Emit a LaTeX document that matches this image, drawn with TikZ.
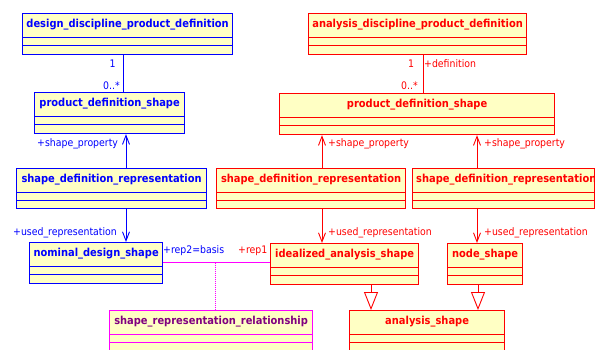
\documentclass[tikz,border=0pt]{standalone}
\usepackage{fontspec}
\setmainfont{DejaVu Sans Condensed}
\usetikzlibrary{arrows.meta,calc}
\definecolor{boxfill}{RGB}{255,255,196}
\definecolor{ublue}{RGB}{0,0,255}
\definecolor{ured}{RGB}{255,0,0}
\definecolor{umag}{RGB}{255,0,255}
\definecolor{upurple}{RGB}{128,0,128}
\tikzset{
  classbox/.style={rectangle, fill=boxfill, line width=1.2pt, inner sep=0pt, anchor=north west},
  titletext/.style={font=\bfseries\fontsize{11}{13}\selectfont, inner sep=0pt},
  lbl/.style={font=\fontsize{10.4}{12}\selectfont, inner sep=0pt},
  conn/.style={line width=0.9pt},
  barb/.style={-{Straight Barb[length=9pt,width=7pt]}},
  gen/.style={-{Triangle[open,length=18pt,width=14pt]}},
  finedots/.style={line width=0.7pt, dash pattern=on 0.8pt off 1.2pt},
}
\newcommand{\umlclass}[8]{%
  \node[classbox, draw=#2, minimum width=#6pt, minimum height=#7pt] (#1) at (#4,#5) {};
  \draw[#2, line width=0.9pt] ($(#1.north west)+(0,24)$) -- ($(#1.north east)+(0,24)$);
  \draw[#2, line width=0.9pt] ($(#1.north west)+(0,32)$) -- ($(#1.north east)+(0,32)$);
  \node[titletext, text=#3] (#1-title) at ($(#1.north)+(0,12)$) {#8};
}
\begin{document}
\begin{tikzpicture}[x=1pt,y=-1pt]
\useasboundingbox (0,0) rectangle (595,349);
\clip (0,0) rectangle (595,349);
% blue classes
\umlclass{b1}{ublue}{ublue}{22}{13}{210}{41}{design\_discipline\_product\_definition}
\umlclass{b2}{ublue}{ublue}{34}{92}{150}{41}{product\_definition\_shape}
\umlclass{b3}{ublue}{ublue}{16}{168}{190}{40}{shape\_definition\_representation}
\umlclass{b4}{ublue}{ublue}{29}{242}{133}{41}{nominal\_design\_shape}
% magenta class
\umlclass{srr}{umag}{upurple}{109}{310}{203}{60}{shape\_representation\_relationship}
% red classes
\umlclass{r1}{ured}{ured}{308}{13}{218}{41}{analysis\_discipline\_product\_definition}
\umlclass{r2}{ured}{ured}{279}{93}{275}{41}{product\_definition\_shape}
\umlclass{r3}{ured}{ured}{216}{168}{189}{40}{shape\_definition\_representation}
\umlclass{r4}{ured}{ured}{412}{168}{182}{40}{}
\node[titletext, text=ured, anchor=west] (r4-t) at ($(r4.north west)+(4,12)$) {shape\_definition\_representation};
\umlclass{r5}{ured}{ured}{270}{243}{148}{41}{idealized\_analysis\_shape}
\umlclass{r6}{ured}{ured}{447}{243}{75}{41}{node\_shape}
\umlclass{r7}{ured}{ured}{349}{310}{155}{60}{analysis\_shape}
% coordinates for connector x positions
\coordinate (xb1) at (123,0);
\coordinate (xb2) at (126,0);
\coordinate (xr1) at (423,0);
\coordinate (xr2) at (322,0);
\coordinate (xr3) at (477,0);
\coordinate (xg1) at (371,0);
\coordinate (xg2) at (478,0);
\coordinate (ym) at (0,262.5);
\coordinate (xd) at (215,262.5);
% blue connectors
\draw[conn, ublue] (b1.south -| xb1) -- (b2.north -| xb1);
\draw[conn, ublue, barb] (b3.north -| xb2) -- (b2.south -| xb2);
\draw[conn, ublue, barb] (b3.south -| xb2) -- (b4.north -| xb2);
% magenta relationship
\draw[umag, line width=0.8pt] (b4.east |- ym) -- (r5.west |- ym);
\draw[umag, finedots] (xd) -- (srr.north -| xd);
% red connectors
\draw[conn, ured] (r1.south -| xr1) -- (r2.north -| xr1);
\draw[conn, ured, barb] (r3.north -| xr2) -- (r2.south -| xr2);
\draw[conn, ured, barb] (r4.north -| xr3) -- (r2.south -| xr3);
\draw[conn, ured, barb] (r3.south -| xr2) -- (r5.north -| xr2);
\draw[conn, ured, barb] (r4.south -| xr3) -- (r6.north -| xr3);
\draw[conn, ured, gen] (r5.south -| xg1) -- (r7.north -| xg1);
\draw[conn, ured, gen] (r6.south -| xg2) -- (r7.north -| xg2);
% blue labels
\node[lbl, text=ublue] (l1) at (112.5,64) {1};
\node[lbl, text=ublue, anchor=east] (l2) at (120,86) {0..*};
\node[lbl, text=ublue, anchor=west] (l3) at (37,143.5) {+shape\_property};
\node[lbl, text=ublue, anchor=west] (l4) at (13,233) {+used\_representation};
\node[lbl, text=ublue, anchor=west] (l5) at (163,251) {+rep2=basis};
\node[lbl, text=ured, anchor=west] (l6) at (238,251) {+rep1};
% red labels
\node[lbl, text=ured] (l7) at (411,64) {1};
\node[lbl, text=ured, anchor=west] (l8) at (424,64) {+definition};
\node[lbl, text=ured, anchor=east] (l9) at (418,86) {0..*};
\node[lbl, text=ured, anchor=west] (l10) at (328,143.5) {+shape\_property};
\node[lbl, text=ured, anchor=west] (l11) at (484,143.5) {+shape\_property};
\node[lbl, text=ured, anchor=west] (l12) at (328,233) {+used\_representation};
\node[lbl, text=ured, anchor=west] (l13) at (484,233) {+used\_representation};
\end{tikzpicture}
\end{document}
